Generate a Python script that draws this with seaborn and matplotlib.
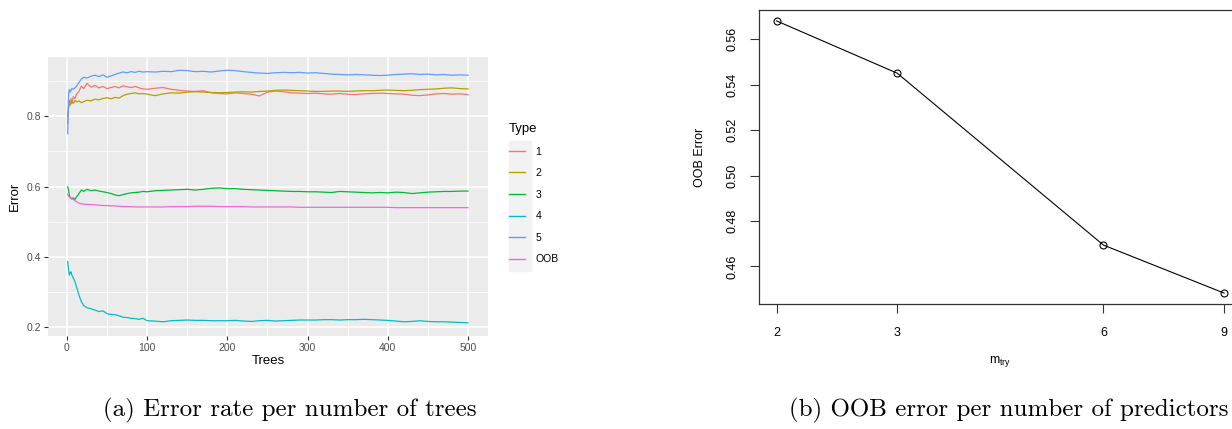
import numpy as np
import pandas as pd
import matplotlib
matplotlib.use("Agg")
import matplotlib.pyplot as plt
import seaborn as sns
from matplotlib.patches import Rectangle

# ---- data ----
trees = [1, 2, 3, 4, 5, 6, 8, 10, 12, 15, 18, 21, 25, 30, 35, 40, 45, 50, 55, 60,
         65, 70, 75, 80, 85, 90, 95, 100,
         110, 120, 130, 140, 150, 160, 170, 180, 190, 200,
         210, 220, 230, 240, 250, 260, 270, 280, 290, 300,
         310, 320, 330, 340, 350, 360, 370, 380, 390, 400,
         410, 420, 430, 440, 450, 460, 470, 480, 490, 500]

err_1 = [0.780, 0.820, 0.845, 0.830, 0.850, 0.835, 0.855, 0.850, 0.862, 0.870,
         0.885, 0.878, 0.893, 0.882, 0.887, 0.880, 0.884, 0.878, 0.881, 0.884,
         0.880, 0.886, 0.883, 0.881, 0.884, 0.880, 0.877, 0.876,
         0.879, 0.881, 0.876, 0.873, 0.871, 0.870, 0.872, 0.866, 0.864, 0.863,
         0.866, 0.864, 0.862, 0.857, 0.868, 0.871, 0.869, 0.866, 0.865, 0.864,
         0.865, 0.863, 0.862, 0.864, 0.862, 0.861, 0.863, 0.864, 0.865, 0.864,
         0.863, 0.862, 0.859, 0.858, 0.860, 0.863, 0.864, 0.862, 0.863, 0.861]

err_2 = [0.800, 0.825, 0.835, 0.832, 0.838, 0.842, 0.836, 0.845, 0.840, 0.843,
         0.838, 0.841, 0.845, 0.843, 0.848, 0.846, 0.850, 0.852, 0.849, 0.853,
         0.851, 0.858, 0.862, 0.864, 0.866, 0.863, 0.864, 0.862,
         0.858, 0.863, 0.866, 0.865, 0.868, 0.869, 0.868, 0.867, 0.866, 0.867,
         0.868, 0.869, 0.868, 0.870, 0.871, 0.873, 0.874, 0.873, 0.872, 0.871,
         0.870, 0.870, 0.871, 0.871, 0.870, 0.871, 0.872, 0.872, 0.873, 0.874,
         0.873, 0.872, 0.873, 0.875, 0.876, 0.877, 0.879, 0.880, 0.878, 0.877]

err_3 = [0.599, 0.590, 0.575, 0.570, 0.568, 0.565, 0.568, 0.563, 0.570, 0.580,
         0.590, 0.586, 0.592, 0.588, 0.590, 0.587, 0.585, 0.583, 0.580, 0.576,
         0.574, 0.577, 0.580, 0.582, 0.583, 0.584, 0.586, 0.585,
         0.588, 0.589, 0.590, 0.591, 0.592, 0.590, 0.592, 0.595, 0.596, 0.594,
         0.594, 0.592, 0.591, 0.590, 0.589, 0.588, 0.587, 0.586, 0.586, 0.585,
         0.585, 0.584, 0.583, 0.586, 0.585, 0.584, 0.583, 0.582, 0.583, 0.582,
         0.584, 0.583, 0.580, 0.582, 0.584, 0.585, 0.586, 0.586, 0.587, 0.587]

err_4 = [0.387, 0.365, 0.349, 0.355, 0.358, 0.350, 0.340, 0.330, 0.315, 0.292,
         0.273, 0.262, 0.256, 0.253, 0.249, 0.245, 0.247, 0.239, 0.237, 0.236,
         0.233, 0.229, 0.228, 0.226, 0.225, 0.223, 0.226, 0.219,
         0.218, 0.216, 0.219, 0.220, 0.221, 0.220, 0.220, 0.219, 0.219, 0.219,
         0.220, 0.218, 0.217, 0.219, 0.220, 0.218, 0.219, 0.220, 0.221, 0.221,
         0.221, 0.222, 0.222, 0.221, 0.222, 0.222, 0.223, 0.222, 0.221, 0.220,
         0.218, 0.216, 0.217, 0.219, 0.217, 0.216, 0.216, 0.215, 0.214, 0.213]

err_5 = [0.750, 0.860, 0.875, 0.868, 0.872, 0.878, 0.876, 0.880, 0.885, 0.895,
         0.905, 0.910, 0.908, 0.913, 0.916, 0.912, 0.917, 0.910, 0.914, 0.918,
         0.922, 0.925, 0.923, 0.926, 0.924, 0.927, 0.925, 0.926,
         0.925, 0.927, 0.926, 0.930, 0.929, 0.926, 0.927, 0.925, 0.928, 0.930,
         0.929, 0.926, 0.924, 0.922, 0.921, 0.923, 0.924, 0.923, 0.924, 0.922,
         0.923, 0.921, 0.919, 0.918, 0.917, 0.918, 0.917, 0.916, 0.915, 0.916,
         0.918, 0.919, 0.920, 0.918, 0.919, 0.917, 0.918, 0.916, 0.917, 0.916]

err_oob = [0.578, 0.572, 0.570, 0.568, 0.566, 0.565, 0.563, 0.560, 0.557, 0.553,
           0.551, 0.550, 0.549, 0.549, 0.548, 0.547, 0.546, 0.546, 0.545, 0.545,
           0.544, 0.543, 0.543, 0.543, 0.542, 0.542, 0.542, 0.542,
           0.542, 0.542, 0.543, 0.543, 0.543, 0.544, 0.544, 0.544, 0.543, 0.543,
           0.543, 0.543, 0.542, 0.542, 0.542, 0.542, 0.542, 0.542, 0.541, 0.541,
           0.541, 0.541, 0.541, 0.541, 0.541, 0.541, 0.541, 0.541, 0.541, 0.541,
           0.540, 0.540, 0.540, 0.540, 0.540, 0.540, 0.540, 0.540, 0.540, 0.540]

types = ["1", "2", "3", "4", "5", "OOB"]
type_colors = ["#F8766D", "#B79F00", "#00BA38", "#00BFC4", "#619CFF", "#F564E3"]

mtry = [2, 3, 6, 9]
oob_mtry = [0.568, 0.545, 0.4694, 0.4483]

# long table for the left panel
series = [err_1, err_2, err_3, err_4, err_5, err_oob]
df = pd.concat(
    [pd.DataFrame({"Trees": trees, "Error": s, "Type": t}) for t, s in zip(types, series)],
    ignore_index=True,
)
df_mtry = pd.DataFrame({"mtry": mtry, "OOB": oob_mtry})

# ---- figure ----
W, H = 1232, 429
fig = plt.figure(figsize=(W / 100, H / 100), dpi=100)
plt.rcParams["font.family"] = ["Liberation Sans", "DejaVu Sans"]


def box(l, t, r, b):
    return [l / W, 1 - b / H, (r - l) / W, (b - t) / H]


# (a) ggplot-like panel
ax1 = fig.add_axes(box(47.7, 56.7, 488, 335.7))
ax1.set_facecolor("#EBEBEB")
ax1.set_axisbelow(True)
sns.lineplot(data=df, x="Trees", y="Error", hue="Type", hue_order=types,
             palette=type_colors, estimator=None, sort=False, lw=0.9, ax=ax1)
handles, labels = ax1.get_legend_handles_labels()
ax1.get_legend().remove()

ax1.set_xlim(-23.95, 524.95)
ax1.set_ylim(0.1765, 0.9685)
ax1.set_xticks([0, 100, 200, 300, 400, 500])
ax1.set_xticks([50, 150, 250, 350, 450], minor=True)
ax1.set_yticks([0.2, 0.4, 0.6, 0.8])
ax1.set_yticks([0.3, 0.5, 0.7, 0.9], minor=True)
ax1.grid(which="major", color="white", lw=1.1)
ax1.grid(which="minor", color="white", lw=0.55)
for s in ax1.spines.values():
    s.set_visible(False)
ax1.tick_params(which="major", length=3, width=0.8, color="#333333",
                labelsize=7.5, labelcolor="#4D4D4D", pad=2)
ax1.tick_params(which="minor", length=0)
ax1.set_xlabel("")
ax1.set_ylabel("")
fig.text(268 / W, 1 - 361 / H, "Trees", ha="center", va="center", fontsize=9.5)
fig.text(15 / W, 1 - 196 / H, "Error", ha="center", va="center", rotation=90, fontsize=9.5)

# legend key background
fig.patches.append(Rectangle((509 / W, 1 - 271 / H), 22 / W, 130 / H,
                             transform=fig.transFigure, color="#F2F2F2", zorder=0))
for h in handles:
    h.set_linewidth(1.0)
leg = fig.legend(handles, labels, title="Type", loc="upper left",
                 bbox_to_anchor=(509 / W, 1 - 123 / H), frameon=False,
                 fontsize=7.5, title_fontsize=9.5, borderpad=0, borderaxespad=0,
                 handlelength=1.55, handletextpad=1.0, labelspacing=1.11,
                 alignment="left")

# (b) base-R-like panel
ax2 = fig.add_axes(box(758.7, 10, 1242, 304))
ax2.set_facecolor("white")
sns.lineplot(data=df_mtry, x="mtry", y="OOB", color="black", lw=0.8, marker="o",
             markersize=5, markerfacecolor="none", markeredgecolor="black",
             markeredgewidth=0.8, ax=ax2)
ax2.set_xscale("log")
ax2.set_xlim(2 * (9 / 2) ** -0.04, 9 * (9 / 2) ** 0.04)
ax2.set_ylim(0.4435, 0.5728)
ax2.set_xticks(mtry)
ax2.set_xticklabels([str(m) for m in mtry])
ax2.xaxis.set_minor_locator(matplotlib.ticker.NullLocator())
ax2.set_yticks([0.46, 0.48, 0.50, 0.52, 0.54, 0.56])
ax2.set_yticklabels(["0.46", "0.48", "0.50", "0.52", "0.54", "0.56"], rotation=90, va="center")
for s in ax2.spines.values():
    s.set_color("#333333")
    s.set_linewidth(0.9)
ax2.tick_params(length=6.5, width=0.8, color="#333333", labelsize=9, pad=8)
ax2.tick_params(axis="x", pad=10)
ax2.grid(False)
ax2.set_xlabel("")
ax2.set_ylabel("")
fig.text(700 / W, 1 - 157 / H, "OOB Error", ha="center", va="center", rotation=90, fontsize=9)
fig.text(1000 / W, 1 - 361 / H, r"m$_{\mathregular{try}}$", ha="center", va="center", fontsize=9)

# captions
fig.text(290 / W, 1 - 410 / H, "(a) Error rate per number of trees",
         ha="center", va="center", fontsize=18, family="cmr10")
fig.text(1009 / W, 1 - 410 / H, "(b) OOB error per number of predictors",
         ha="center", va="center", fontsize=18, family="cmr10")

fig.savefig("out.png", dpi=100)
